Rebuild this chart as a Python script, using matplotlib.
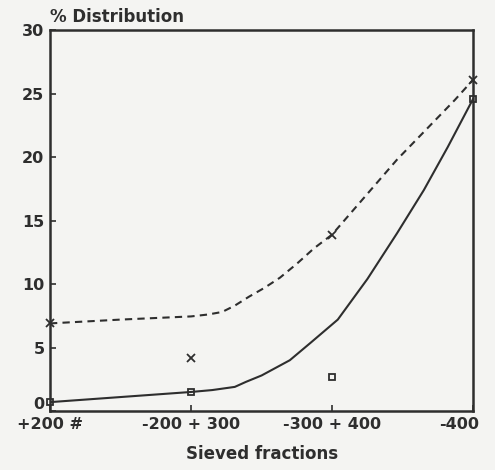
import numpy as np
import matplotlib.pyplot as plt
from matplotlib.transforms import ScaledTranslation

# sieve fractions (mesh) and measured % distribution
fractions = ['+200 #', '-200 + 300', '-300 + 400', '-400']
pos = [0, 1, 2, 3]
squares = [0.7, 1.5, 2.7, 24.6]
crosses = [6.9, 4.2, 13.9, 26.1]

# hand-drawn smooth curves
solid_x = [0, 0.5, 1.0, 1.15, 1.31, 1.39, 1.5, 1.6, 1.7, 1.85, 2.04, 2.25, 2.46, 2.65, 2.82, 3.0]
solid_y = [0.7, 1.1, 1.5, 1.65, 1.9, 2.3, 2.8, 3.4, 4.0, 5.4, 7.2, 10.4, 14.0, 17.4, 20.8, 24.6]
dash_x = [0, 0.5, 1.0, 1.12, 1.22, 1.31, 1.41, 1.52, 1.63, 1.75, 1.87, 2.0, 2.46, 2.87, 3.0]
dash_y = [6.9, 7.2, 7.45, 7.6, 7.8, 8.3, 9.0, 9.7, 10.5, 11.6, 12.8, 13.9, 19.8, 24.5, 26.1]

ink = '#2e2e2e'
bg = '#f4f4f2'
plt.rcParams['font.family'] = 'DejaVu Sans'
plt.rcParams['font.weight'] = 'bold'

fig = plt.figure(figsize=(4.95, 4.70), dpi=100, facecolor=bg)
ax = fig.add_axes([0.101, 0.1255, 0.855, 0.8105])
ax.set_facecolor(bg)

ax.plot(solid_x, solid_y, color=ink, lw=1.5)
ax.plot(dash_x, dash_y, color=ink, lw=1.5, dashes=(3.5, 2.5))
ax.plot(pos, squares, ls='none', marker='s', ms=5, mfc='none', mec=ink, mew=1.3,
        clip_on=False, zorder=5)
ax.plot(pos, crosses, ls='none', marker='x', ms=6, mec=ink, mew=1.3,
        clip_on=False, zorder=5)

ax.set_xlim(0, 3)
ax.set_ylim(0, 30)
ax.set_yticks([0, 5, 10, 15, 20, 25, 30])
ax.set_xticks(pos)
ax.set_xticklabels(fractions, fontsize=11.5, fontweight='bold', color=ink)
ax.set_yticklabels(['0', '5', '10', '15', '20', '25', '30'], fontsize=11.5,
                   fontweight='bold', color=ink)
ax.tick_params(direction='in', length=4, width=1.2, color=ink, pad=4)
for s in ax.spines.values():
    s.set_linewidth(1.8)
    s.set_color(ink)

# nudge labels that sit at the corners
ylabs = ax.get_yticklabels()
ylabs[0].set_transform(ylabs[0].get_transform() + ScaledTranslation(0, 6 / 72, fig.dpi_scale_trans))
xlabs = ax.get_xticklabels()
xlabs[-1].set_transform(xlabs[-1].get_transform() + ScaledTranslation(-10 / 72, 0, fig.dpi_scale_trans))

ax.set_xlabel('Sieved fractions', fontsize=12, fontweight='bold', color=ink, labelpad=10)
ax.text(0, 1.01, '% Distribution', transform=ax.transAxes, fontsize=12,
        fontweight='bold', color=ink, va='bottom', ha='left')

fig.savefig('out.png', dpi=100, facecolor=fig.get_facecolor())
